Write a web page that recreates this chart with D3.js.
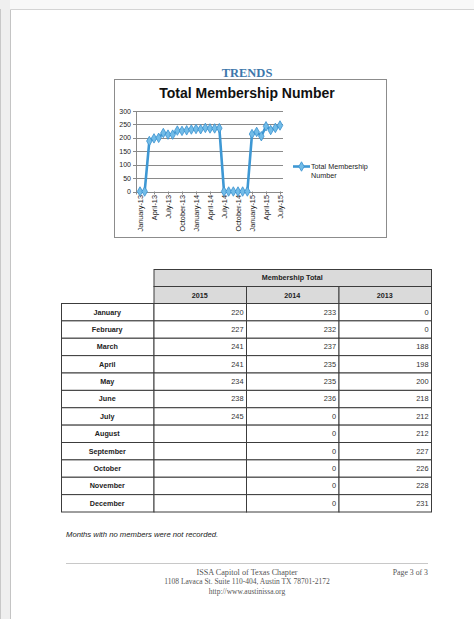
<!DOCTYPE html>
<html>
<head>
<meta charset="utf-8">
<script src="https://cdn.jsdelivr.net/npm/d3@7"></script>
<style>
  body { margin: 0; background: #fff; }
  svg { display: block; }
</style>
</head>
<body>
<div id="page"></div>
<script>
// ---- DATA ----
const monthLabels = [
  "January-13","February-13","March-13","April-13","May-13","June-13",
  "July-13","August-13","September-13","October-13","November-13","December-13",
  "January-14","February-14","March-14","April-14","May-14","June-14",
  "July-14","August-14","September-14","October-14","November-14","December-14",
  "January-15","February-15","March-15","April-15","May-15","June-15","July-15"
];
const memberCounts = [
  0, 0, 188, 198, 200, 218, 212, 212, 227, 226, 228, 231,
  233, 232, 237, 235, 235, 236, 0, 0, 0, 0, 0, 0,
  214, 222, 206, 243, 229, 237, 246
];
const tickLabels = ["January-13","April-13","July-13","October-13","January-14","April-14",
  "July-14","October-14","January-15","April-15","July-15"];
const yTicks = [0, 50, 100, 150, 200, 250, 300];

const tableMonths = ["January","February","March","April","May","June","July",
  "August","September","October","November","December"];
const tableYears = ["2015", "2014", "2013"];
const total2015 = [220, 227, 241, 241, 234, 238, 245, null, null, null, null, null];
const total2014 = [233, 232, 237, 235, 235, 236, 0, 0, 0, 0, 0, 0];
const total2013 = [0, 0, 188, 198, 200, 218, 212, 212, 227, 226, 228, 231];

const W = 474, H = 619;
const sans = "'Liberation Sans', Arial, sans-serif";
const serif = "'Liberation Serif', 'Times New Roman', serif";

let svg = d3.select("#page").append("svg")
    .attr("width", W)
    .attr("height", H);

// ---- PAGE FRAME ----
svg.append("rect").attr("x", 0).attr("y", 0).attr("width", W).attr("height", 9).attr("fill", "#f8f8f8");
svg.append("rect").attr("x", 0).attr("y", 0).attr("width", 10).attr("height", H).attr("fill", "#efefef");
svg.append("line").attr("x1", 0.5).attr("x2", 0.5).attr("y1", 9).attr("y2", H).attr("stroke", "#c8c8c8");
svg.append("line").attr("x1", 10.5).attr("x2", 10.5).attr("y1", 9.5).attr("y2", H).attr("stroke", "#c4c4c4");
svg.append("line").attr("x1", 10.5).attr("x2", W).attr("y1", 9.5).attr("y2", 9.5).attr("stroke", "#d4d4d4");

// heading
svg.append("text")
    .attr("x", 247).attr("y", 77)
    .attr("text-anchor", "middle")
    .attr("font-family", serif).attr("font-weight", "bold").attr("font-size", 12.5)
    .attr("fill", "#3d77ab")
    .text("TRENDS");

// ---- CHART ----
svg.append("rect")
    .attr("x", 114.5).attr("y", 79.5).attr("width", 272).attr("height", 158)
    .attr("fill", "#fff").attr("stroke", "#8c8c8c");

svg.append("text")
    .attr("x", 247).attr("y", 98)
    .attr("text-anchor", "middle")
    .attr("font-family", sans).attr("font-weight", "bold").attr("font-size", 14)
    .attr("fill", "#111")
    .text("Total Membership Number");

let x = d3.scalePoint()
    .domain(monthLabels)
    .range([140, 280]);

let y = d3.scaleLinear()
    .domain([0, 300])
    .range([191.5, 111]);

let plot = svg.append("g");

// gridlines
plot.selectAll(".grid")
    .data(yTicks)
    .enter().append("line")
    .attr("x1", 133).attr("x2", 283)
    .attr("y1", d => Math.round(y(d)) + 0.5)
    .attr("y2", d => Math.round(y(d)) + 0.5)
    .attr("stroke", "#8a8a8a").attr("stroke-width", 1);

plot.append("line")
    .attr("x1", 136.5).attr("x2", 136.5)
    .attr("y1", y(300)).attr("y2", y(0) + 3)
    .attr("stroke", "#8a8a8a");

// y labels
plot.selectAll(".ylab")
    .data(yTicks)
    .enter().append("text")
    .attr("x", 131).attr("y", d => y(d) + 2.5)
    .attr("text-anchor", "end")
    .attr("font-family", sans).attr("font-size", 7)
    .attr("fill", "#222")
    .text(d => d);

// x ticks + labels
plot.selectAll(".xtick")
    .data(tickLabels)
    .enter().append("line")
    .attr("x1", d => x(d) + 0.5).attr("x2", d => x(d) + 0.5)
    .attr("y1", y(0)).attr("y2", y(0) + 3)
    .attr("stroke", "#8a8a8a");

plot.selectAll(".xlab")
    .data(tickLabels)
    .enter().append("text")
    .attr("transform", d => "translate(" + (x(d) + 2.5) + "," + (y(0) + 3.5) + ") rotate(-90)")
    .attr("text-anchor", "end")
    .attr("font-family", sans).attr("font-size", 7.3)
    .attr("fill", "#222")
    .text(d => d);

// line + markers
let points = monthLabels.map((m, i) => ({month: m, value: memberCounts[i]}));

let line = d3.line()
    .x(d => x(d.month))
    .y(d => y(d.value));

plot.append("path")
    .datum(points)
    .attr("d", line)
    .attr("fill", "none")
    .attr("stroke", "#3e98d4")
    .attr("stroke-width", 2.6)
    .attr("stroke-linejoin", "round");

let diamond = d3.symbol().type(d3.symbolDiamond).size(26);

plot.selectAll(".marker")
    .data(points)
    .enter().append("path")
    .attr("d", diamond)
    .attr("transform", d => "translate(" + x(d.month) + "," + y(d.value) + ")")
    .attr("fill", "#72bce8")
    .attr("stroke", "#3a92cf")
    .attr("stroke-width", 0.8)
    .attr("stroke-linejoin", "round");

// legend
let legend = svg.append("g");
legend.append("line")
    .attr("x1", 293).attr("x2", 310).attr("y1", 166.5).attr("y2", 166.5)
    .attr("stroke", "#3e98d4").attr("stroke-width", 2.6);
legend.append("path")
    .attr("d", diamond)
    .attr("transform", "translate(301.5,166.5)")
    .attr("fill", "#72bce8").attr("stroke", "#3a92cf").attr("stroke-width", 0.8);
legend.selectAll("text")
    .data(["Total Membership", "Number"])
    .enter().append("text")
    .attr("x", 311).attr("y", (d, i) => 169 + i * 9)
    .attr("font-family", sans).attr("font-size", 7.2)
    .attr("fill", "#222")
    .text(d => d);

// ---- TABLE ----
let colX = d3.scaleBand()
    .domain(["month"].concat(tableYears))
    .range([61, 431]);

let rowY = d3.scaleBand()
    .domain(tableMonths)
    .range([303, 511.5]);

const headTop = 269, headMid = 286;
let table = svg.append("g")
    .attr("font-family", sans);

// header cells
table.append("rect")
    .attr("x", colX("2015") + 0.5).attr("y", headTop + 0.5)
    .attr("width", colX.bandwidth() * 3).attr("height", headMid - headTop)
    .attr("fill", "#dadada").attr("stroke", "#3c3c3c");
table.append("text")
    .attr("x", colX("2015") + colX.bandwidth() * 1.5).attr("y", headTop + 11)
    .attr("text-anchor", "middle").attr("font-size", 7.2).attr("font-weight", "bold")
    .attr("fill", "#222")
    .text("Membership Total");

table.selectAll(".yearHead")
    .data(tableYears)
    .enter().append("rect")
    .attr("x", d => colX(d) + 0.5).attr("y", headMid + 0.5)
    .attr("width", colX.bandwidth()).attr("height", 303 - headMid)
    .attr("fill", "#dadada").attr("stroke", "#3c3c3c");
table.selectAll(".yearText")
    .data(tableYears)
    .enter().append("text")
    .attr("x", d => colX(d) + colX.bandwidth() / 2).attr("y", headMid + 11.5)
    .attr("text-anchor", "middle").attr("font-size", 7.2).attr("font-weight", "bold")
    .attr("fill", "#222")
    .text(d => d);

// body
let rows = tableMonths.map((m, i) => ({month: m, "2015": total2015[i], "2014": total2014[i], "2013": total2013[i]}));
let cols = ["month"].concat(tableYears);

let rowG = table.selectAll(".row")
    .data(rows)
    .enter().append("g")
    .attr("transform", d => "translate(0," + rowY(d.month) + ")");

cols.forEach(c => {
    rowG.append("rect")
        .attr("x", colX(c) + 0.5).attr("y", 0.5)
        .attr("width", colX.bandwidth()).attr("height", rowY.bandwidth())
        .attr("fill", "#fff").attr("stroke", "#3c3c3c");
});

rowG.append("text")
    .attr("x", colX("month") + colX.bandwidth() / 2).attr("y", 11.5)
    .attr("text-anchor", "middle").attr("font-size", 7.2).attr("font-weight", "bold")
    .attr("fill", "#222")
    .text(d => d.month);

tableYears.forEach(c => {
    rowG.append("text")
        .attr("x", colX(c) + colX.bandwidth() - 2.5).attr("y", 11.5)
        .attr("text-anchor", "end").attr("font-size", 7.4)
        .attr("fill", "#333")
        .text(d => d[c] === null ? "" : d[c]);
});

// ---- NOTE + FOOTER ----
svg.append("text")
    .attr("x", 66).attr("y", 537)
    .attr("font-family", sans).attr("font-style", "italic").attr("font-size", 7.7)
    .attr("fill", "#222")
    .text("Months with no members were not recorded.");

svg.append("line")
    .attr("x1", 66).attr("x2", 428).attr("y1", 563.5).attr("y2", 563.5)
    .attr("stroke", "#c8c8c8");

let footer = ["ISSA Capitol of Texas Chapter", "1108 Lavaca St. Suite 110-404, Austin TX 78701-2172", "http://www.austinissa.org"];
svg.selectAll(".foot")
    .data(footer)
    .enter().append("text")
    .attr("x", 247).attr("y", (d, i) => 574.5 + i * 9.5)
    .attr("text-anchor", "middle")
    .attr("font-family", serif).attr("font-size", (d, i) => i === 0 ? 8.2 : 7.5)
    .attr("fill", "#555")
    .text(d => d);

svg.append("text")
    .attr("x", 428).attr("y", 574.5)
    .attr("text-anchor", "end")
    .attr("font-family", serif).attr("font-size", 7.8)
    .attr("fill", "#555")
    .text("Page 3 of 3");
</script>
</body>
</html>
